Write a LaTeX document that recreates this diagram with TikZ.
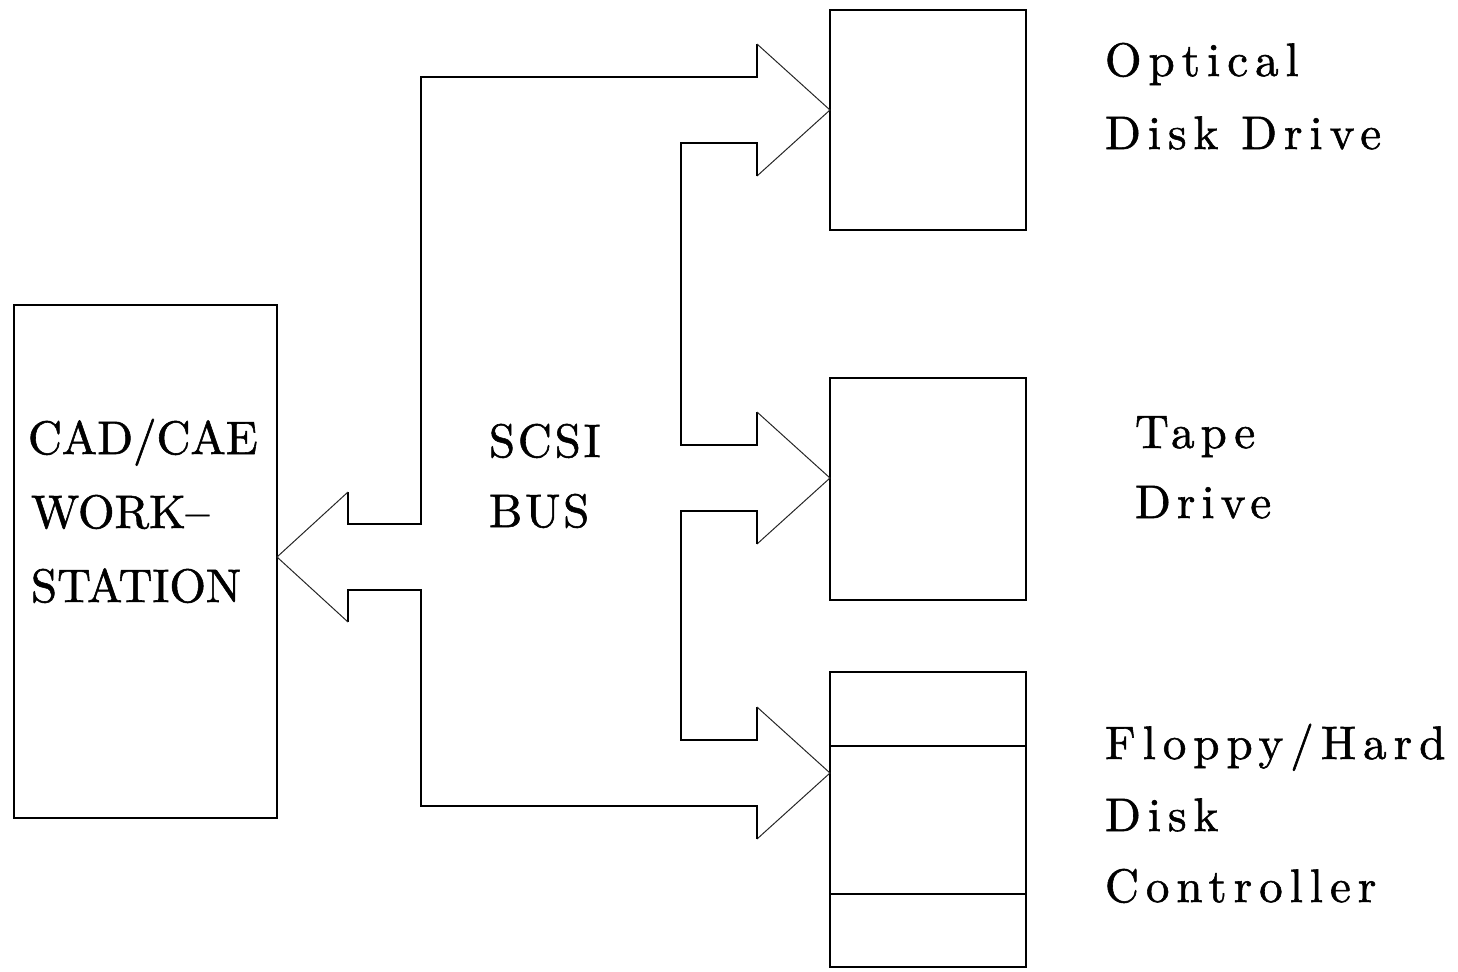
\documentclass[tikz,border=0pt]{standalone}
\usepackage{fontspec}
\setmainfont[FakeBold=1.2]{lmroman10-regular.otf}
\newfontfamily\spfont[LetterSpace=15,FakeBold=1.2]{lmroman10-regular.otf}
\newfontfamily\tpfont[LetterSpace=13,FakeBold=1.2]{lmroman10-regular.otf}
\newfontfamily\bsfont[LetterSpace=6,FakeBold=1.2]{lmroman10-regular.otf}
\usetikzlibrary{calc}
\tikzset{
  box/.style={draw, line width=1pt, rectangle, inner sep=0pt, outer sep=0pt},
  busline/.style={line width=1pt, line join=miter},
  headline/.style={line width=0.5pt, black!85},
  lbl/.style={anchor=base west, inner sep=0pt, outer sep=0pt, font=\fontsize{23.5}{28}\selectfont},
  blbl/.style={anchor=base west, inner sep=0pt, outer sep=0pt, font=\bsfont\fontsize{23.5}{28}\selectfont},
  slbl/.style={anchor=base west, inner sep=0pt, outer sep=0pt, font=\spfont\fontsize{23.5}{28}\selectfont},
  tlbl/.style={anchor=base west, inner sep=0pt, outer sep=0pt, font=\tpfont\fontsize{23.5}{28}\selectfont},
}
\begin{document}
\begin{tikzpicture}[x=0.5pt,y=-0.5pt]
\useasboundingbox (0,0) rectangle (1458,971);
% boxes
\node[box, minimum width=131.5pt, minimum height=256.5pt] (ws) at (145.5,561.5) {};
\node[box, minimum width=98pt, minimum height=110pt] (od) at (928,120) {};
\node[box, minimum width=98pt, minimum height=111pt] (tp) at (928,489) {};
\node[box, minimum width=98pt, minimum height=147.5pt] (fh) at (928,819.5) {};
\draw[line width=1pt] (fh.west |- 0,746) -- (fh.east |- 0,746);
\draw[line width=1pt] (fh.west |- 0,894) -- (fh.east |- 0,894);
% arrow tips
\coordinate (t0) at (ws.east |- 0,557);
\coordinate (t1) at (od.west |- 0,110);
\coordinate (t2) at (tp.west |- 0,478);
\coordinate (t3) at (fh.west |- 0,773);
% bus outline
\draw[busline] ($(t0)+(71,-65)$) |- ($(t0)+(144,-33)$) |- ($(t1)+(-73,-33)$) -- ($(t1)+(-73,-66)$);
\draw[headline] ($(t1)+(-73,-66)$) -- (t1) -- ($(t1)+(-73,66)$);
\draw[busline] ($(t1)+(-73,66)$) -- ($(t1)+(-73,33)$) -| ($(t2)+(-149,-33)$) -- ($(t2)+(-73,-33)$) -- ($(t2)+(-73,-66)$);
\draw[headline] ($(t2)+(-73,-66)$) -- (t2) -- ($(t2)+(-73,66)$);
\draw[busline] ($(t2)+(-73,66)$) -- ($(t2)+(-73,33)$) -| ($(t3)+(-149,-33)$) -- ($(t3)+(-73,-33)$) -- ($(t3)+(-73,-66)$);
\draw[headline] ($(t3)+(-73,-66)$) -- (t3) -- ($(t3)+(-73,66)$);
\draw[busline] ($(t3)+(-73,66)$) -- ($(t3)+(-73,33)$) -| ($(t0)+(144,33)$) -- ($(t0)+(71,33)$) -- ($(t0)+(71,65)$);
\draw[headline] ($(t0)+(71,65)$) -- (t0) -- ($(t0)+(71,-65)$);
% labels
\node[lbl] (tcad) at (28,454) {CAD/CAE};
\node[lbl] (twork) at (31,528) {WORK--};
\node[lbl] (tstation) at (31,602) {STATION};
\node[blbl] (tscsi) at (489,457) {SCSI};
\node[blbl] (tbus) at (489,527) {BUS};
\node[slbl] (topt1) at (1105,76) {Optical};
\node[slbl] (topt2) at (1105,149) {Disk Drive};
\node[tlbl] (ttape1) at (1135,448) {Tape};
\node[tlbl] (ttape2) at (1135,518) {Drive};
\node[slbl] (tfl1) at (1105,759) {Floppy/Hard};
\node[slbl] (tfl2) at (1105,831) {Disk};
\node[slbl] (tfl3) at (1105,902) {Controller};
\end{tikzpicture}
\end{document}
